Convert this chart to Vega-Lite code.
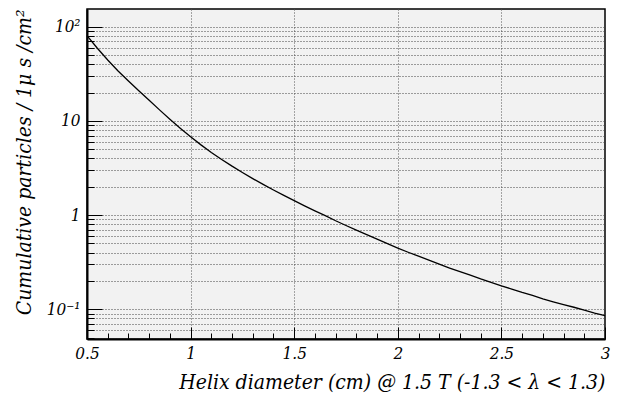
{
  "$schema": "https://vega.github.io/schema/vega-lite/v6.json",
  "autosize": {"type": "none"},
  "width": 518,
  "height": 330,
  "padding": {"left": 87, "top": 9, "right": 13, "bottom": 55},
  "background": "white",
  "config": {"font": "DejaVu Serif Condensed, DejaVu Serif"},
  "view": {"fill": "#f2f2f2", "stroke": "#000", "strokeWidth": 1.5},
  "data": {"values": [
    {"d": 0.50, "n": 80.7}, {"d": 0.55, "n": 59.2}, {"d": 0.60, "n": 44.4}, {"d": 0.65, "n": 34.0},
    {"d": 0.70, "n": 26.6}, {"d": 0.75, "n": 20.9}, {"d": 0.80, "n": 16.56}, {"d": 0.85, "n": 13.12},
    {"d": 0.90, "n": 10.45}, {"d": 0.95, "n": 8.39}, {"d": 1.00, "n": 6.79}, {"d": 1.05, "n": 5.57},
    {"d": 1.10, "n": 4.63}, {"d": 1.15, "n": 3.90}, {"d": 1.20, "n": 3.31}, {"d": 1.25, "n": 2.835},
    {"d": 1.30, "n": 2.443}, {"d": 1.35, "n": 2.118}, {"d": 1.40, "n": 1.847}, {"d": 1.45, "n": 1.618},
    {"d": 1.50, "n": 1.424}, {"d": 1.55, "n": 1.253}, {"d": 1.60, "n": 1.109}, {"d": 1.65, "n": 0.986},
    {"d": 1.70, "n": 0.871}, {"d": 1.75, "n": 0.776}, {"d": 1.80, "n": 0.692}, {"d": 1.85, "n": 0.619},
    {"d": 1.90, "n": 0.555}, {"d": 1.95, "n": 0.498}, {"d": 2.00, "n": 0.446}, {"d": 2.05, "n": 0.403},
    {"d": 2.10, "n": 0.366}, {"d": 2.15, "n": 0.332}, {"d": 2.20, "n": 0.301}, {"d": 2.25, "n": 0.274},
    {"d": 2.30, "n": 0.251}, {"d": 2.35, "n": 0.230}, {"d": 2.40, "n": 0.210}, {"d": 2.45, "n": 0.193},
    {"d": 2.50, "n": 0.177}, {"d": 2.55, "n": 0.164}, {"d": 2.60, "n": 0.151}, {"d": 2.65, "n": 0.140},
    {"d": 2.70, "n": 0.129}, {"d": 2.75, "n": 0.120}, {"d": 2.80, "n": 0.112}, {"d": 2.85, "n": 0.105},
    {"d": 2.90, "n": 0.098}, {"d": 2.95, "n": 0.091}, {"d": 3.00, "n": 0.0855}
  ]},
  "mark": {"type": "line", "color": "#000", "strokeWidth": 1.3, "interpolate": "linear"},
  "encoding": {
    "x": {
      "field": "d", "type": "quantitative",
      "scale": {"domain": [0.5, 3], "nice": false, "zero": false},
      "axis": {
        "title": "Helix diameter (cm) @ 1.5 T (-1.3 < λ < 1.3)",
        "titleAnchor": "end",
        "titleFont": "DejaVu Serif Condensed, DejaVu Serif", "titleFontStyle": "italic", "titleFontWeight": "normal",
        "titleFontSize": 21, "titleColor": "#000", "titlePadding": 4,
        "values": [0.5,0.6,0.7,0.8,0.9,1,1.1,1.2,1.3,1.4,1.5,1.6,1.7,1.8,1.9,2,2.1,2.2,2.3,2.4,2.5,2.6,2.7,2.8,2.9,3],
        "format": "~g",
        "labelExpr": "(datum.value==0.5||datum.value==1||datum.value==1.5||datum.value==2||datum.value==2.5||datum.value==3) ? datum.label : ''",
        "labelFont": "DejaVu Serif Condensed, DejaVu Serif", "labelFontStyle": "italic", "labelFontSize": 17, "labelColor": "#000",
        "labelOverlap": false, "labelFlush": false, "labelBound": false,
        "labelPadding": 18,
        "tickSize": {"condition": {"test": "datum.value==0.5||datum.value==1||datum.value==1.5||datum.value==2||datum.value==2.5||datum.value==3", "value": -12}, "value": -6},
        "tickColor": "#000", "tickWidth": 1,
        "domainColor": "#000", "domainWidth": 2,
        "grid": true,
        "gridColor": "#555", "gridDash": [1, 2], "gridWidth": 1,
        "gridOpacity": {"condition": {"test": "datum.value==1||datum.value==1.5||datum.value==2||datum.value==2.5", "value": 1}, "value": 0}
      }
    },
    "y": {
      "field": "n", "type": "quantitative",
      "scale": {"type": "log", "domain": [0.0483, 154.6], "nice": false, "zero": false},
      "axis": {
        "title": "Cumulative particles / 1μ s /cm²",
        "titleAnchor": "end",
        "titleFont": "DejaVu Serif Condensed, DejaVu Serif", "titleFontStyle": "italic", "titleFontWeight": "normal",
        "titleFontSize": 21, "titleColor": "#000", "titlePadding": 12,
        "values": [0.05,0.06,0.07,0.08,0.09,0.1,0.2,0.3,0.4,0.5,0.6,0.7,0.8,0.9,1,2,3,4,5,6,7,8,9,10,20,30,40,50,60,70,80,90,100],
        "labelExpr": "datum.value==100 ? '10²' : datum.value==10 ? '10' : datum.value==1 ? '1' : datum.value==0.1 ? '10⁻¹' : ''",
        "labelFont": "DejaVu Serif Condensed, DejaVu Serif", "labelFontStyle": "italic", "labelFontSize": 17, "labelColor": "#000",
        "labelOverlap": false, "labelFlush": false, "labelBound": false,
        "labelPadding": 22,
        "tickSize": {"condition": {"test": "datum.value==0.1||datum.value==1||datum.value==10||datum.value==100", "value": -15}, "value": -7},
        "tickColor": "#000", "tickWidth": 1,
        "domainColor": "#000", "domainWidth": 2,
        "grid": true,
        "gridColor": "#444", "gridDash": [1, 2], "gridWidth": 1
      }
    }
  }
}
